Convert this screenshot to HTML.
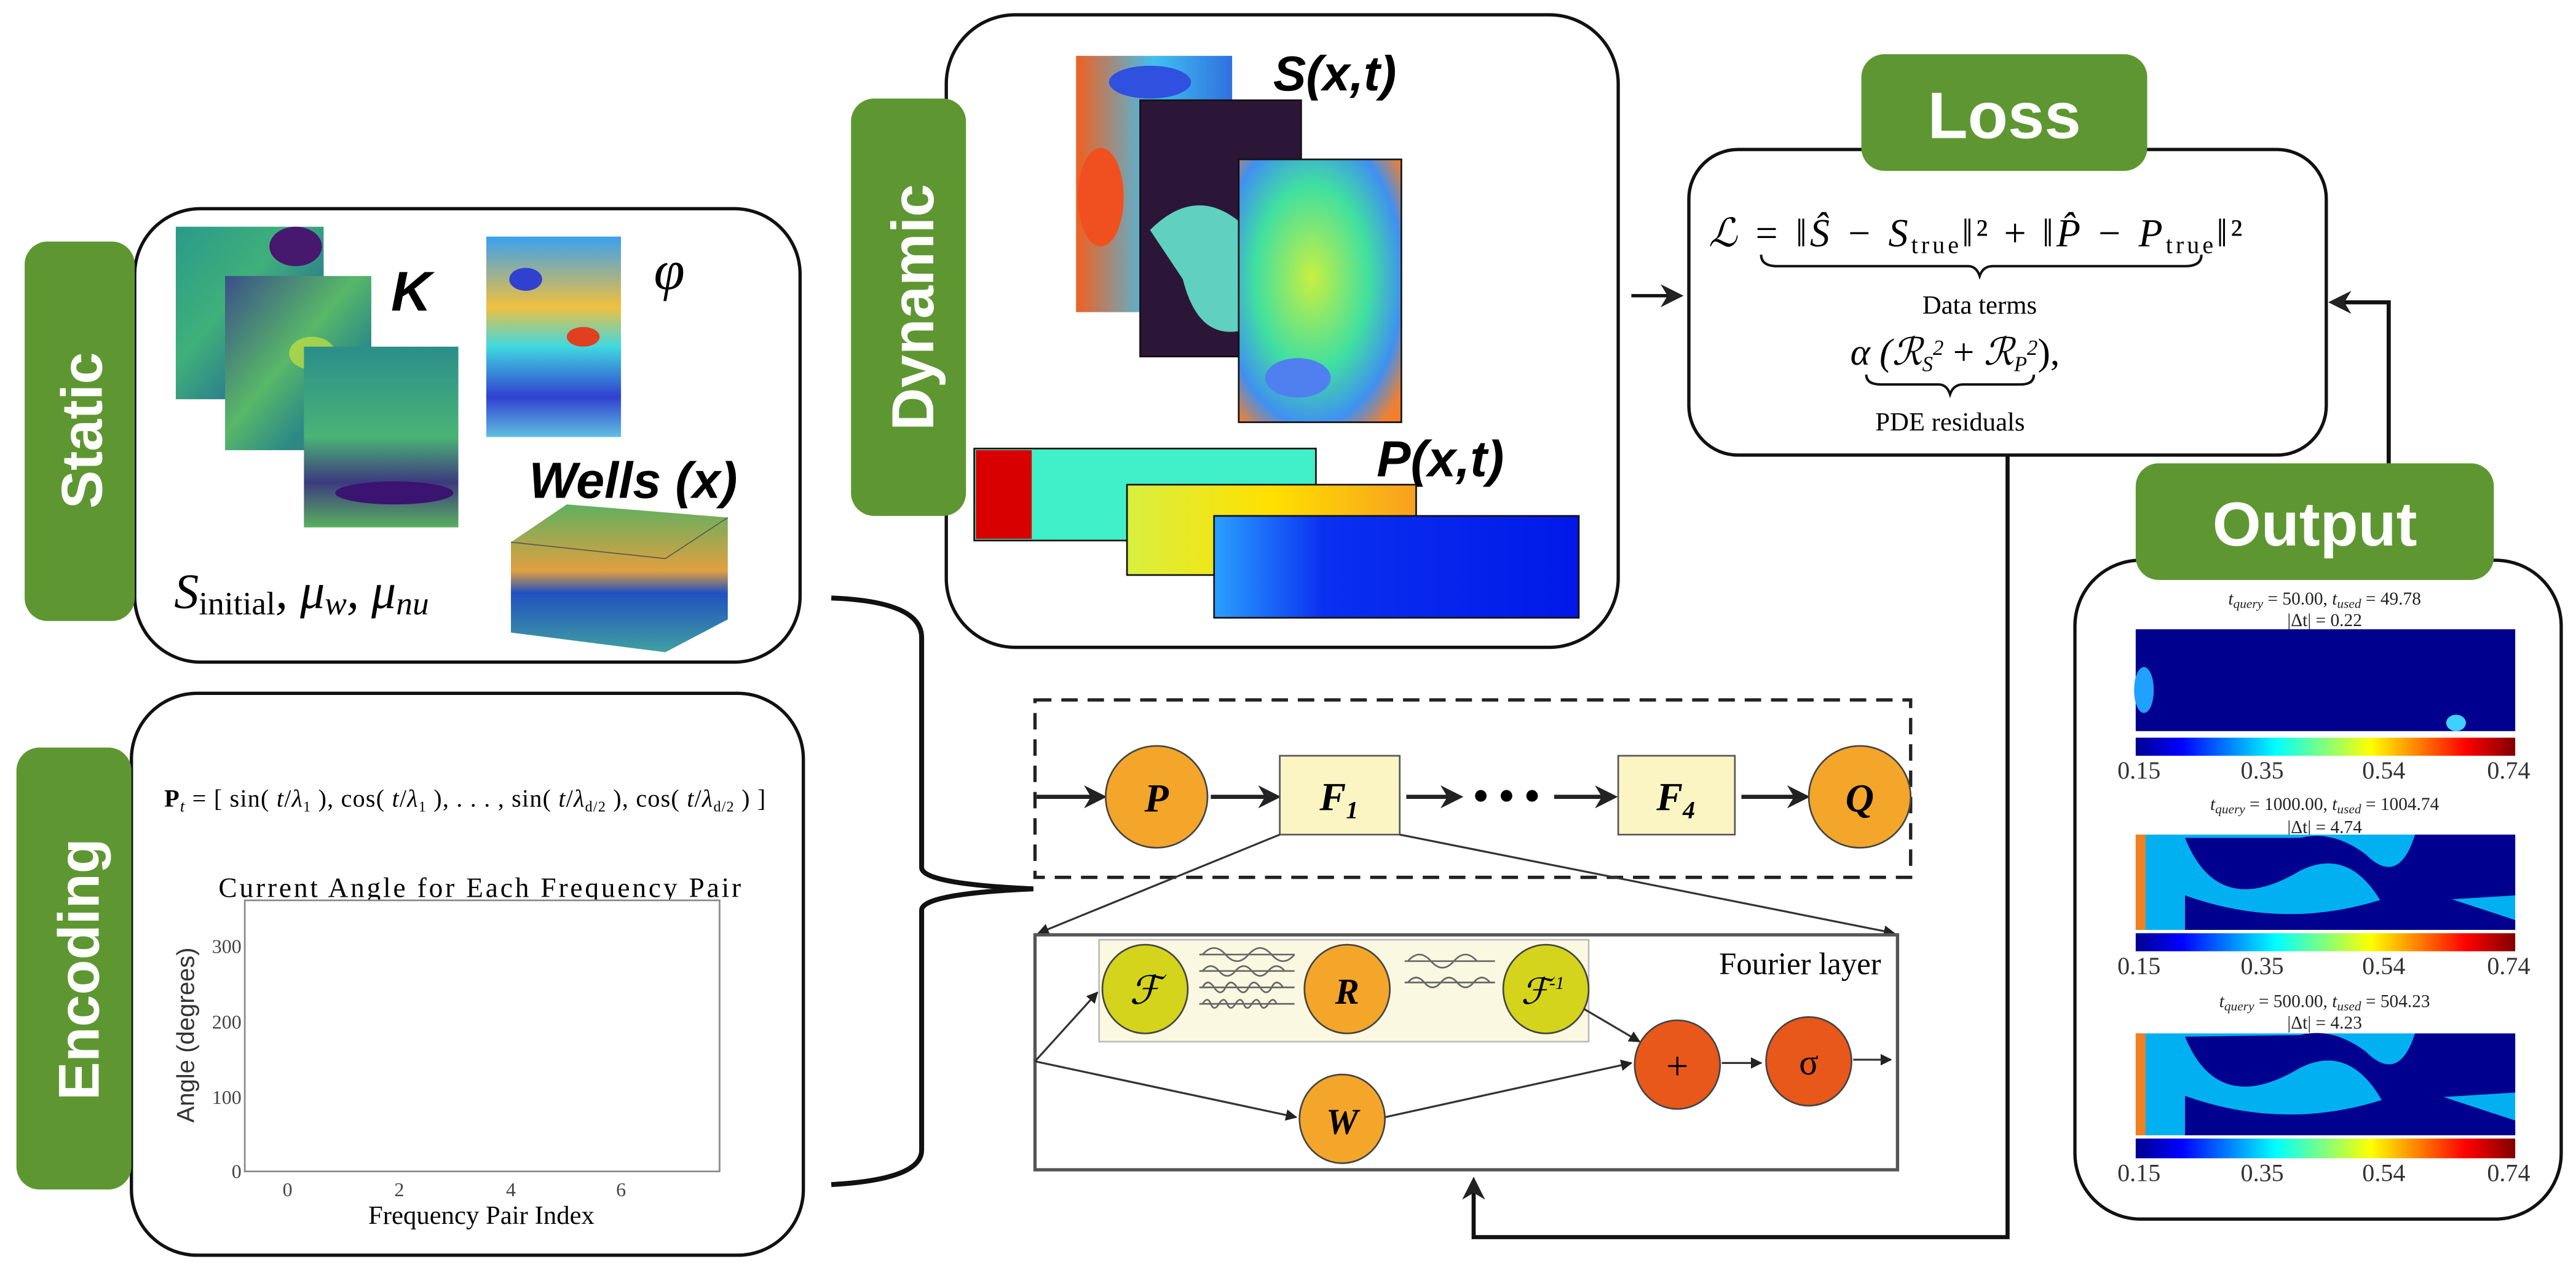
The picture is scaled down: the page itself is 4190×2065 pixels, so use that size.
<!DOCTYPE html>
<html><head><meta charset="utf-8"><style>
html,body{margin:0;padding:0;background:#fff;}
svg{display:block;}
text{font-family:"Liberation Serif",serif;}
.sans{font-family:"Liberation Sans",sans-serif;}
</style></head><body>
<svg width="4190" height="2065" viewBox="0 0 1568 773" preserveAspectRatio="none" xmlns="http://www.w3.org/2000/svg">
<defs>
<marker id="ah" viewBox="0 0 10 10" refX="9" refY="5" markerWidth="7" markerHeight="7" orient="auto-start-reverse" markerUnits="userSpaceOnUse"><path d="M0,0 L10,5 L0,10 z" fill="#222"/></marker>
<marker id="ahb" viewBox="0 0 10 10" refX="8" refY="5" markerWidth="14" markerHeight="14" orient="auto" markerUnits="userSpaceOnUse"><path d="M0,0 L10,5 L0,10 L3,5 z" fill="#222"/></marker>
<linearGradient id="jet" x1="0" x2="1" y1="0" y2="0">
<stop offset="0" stop-color="#00008f"/><stop offset="0.12" stop-color="#0000ff"/><stop offset="0.37" stop-color="#00ffff"/><stop offset="0.62" stop-color="#ffff00"/><stop offset="0.87" stop-color="#ff0000"/><stop offset="1" stop-color="#800000"/></linearGradient>
<linearGradient id="vir1" x1="0" y1="0" x2="1" y2="1"><stop offset="0" stop-color="#2a9a8a"/><stop offset="0.4" stop-color="#3fb07a"/><stop offset="0.7" stop-color="#2b7a8e"/><stop offset="1" stop-color="#42177a"/></linearGradient>
<linearGradient id="vir2" x1="0" y1="0" x2="1" y2="1"><stop offset="0" stop-color="#3a4f8a"/><stop offset="0.45" stop-color="#58b868"/><stop offset="0.7" stop-color="#2c8a86"/><stop offset="1" stop-color="#3e6a8c"/></linearGradient>
<linearGradient id="vir3" x1="0" y1="0" x2="0" y2="1"><stop offset="0" stop-color="#2a8e8a"/><stop offset="0.5" stop-color="#4ab376"/><stop offset="0.75" stop-color="#3d3a7e"/><stop offset="1" stop-color="#58b060"/></linearGradient>
<linearGradient id="phi" x1="0" y1="0" x2="0" y2="1"><stop offset="0" stop-color="#3aa0f0"/><stop offset="0.35" stop-color="#f0c040"/><stop offset="0.55" stop-color="#40d8e0"/><stop offset="0.8" stop-color="#3040d0"/><stop offset="1" stop-color="#60c0e0"/></linearGradient>
<linearGradient id="s1" x1="0" y1="0" x2="1" y2="0"><stop offset="0" stop-color="#f06020"/><stop offset="0.5" stop-color="#40c0f0"/><stop offset="1" stop-color="#3070e0"/></linearGradient>
<radialGradient id="s3" cx="0.45" cy="0.45" r="0.7"><stop offset="0" stop-color="#c8f040"/><stop offset="0.5" stop-color="#40e0a0"/><stop offset="0.8" stop-color="#4090f0"/><stop offset="1" stop-color="#f08030"/></radialGradient>
<linearGradient id="p2" x1="0" x2="1"><stop offset="0" stop-color="#d8f040"/><stop offset="0.5" stop-color="#ffe000"/><stop offset="1" stop-color="#f8a020"/></linearGradient>
<linearGradient id="p3" x1="0" x2="1"><stop offset="0" stop-color="#2aa0ff"/><stop offset="0.3" stop-color="#0a30f0"/><stop offset="1" stop-color="#0018e8"/></linearGradient>
<linearGradient id="blk3d" x1="0" y1="0" x2="0" y2="1"><stop offset="0" stop-color="#60b060"/><stop offset="0.45" stop-color="#e0a040"/><stop offset="0.6" stop-color="#2050c0"/><stop offset="1" stop-color="#40a0a0"/></linearGradient>
</defs>

<!-- ===== Static ===== -->
<rect x="82" y="127" width="405" height="276" rx="40" fill="#fff" stroke="#111" stroke-width="2"/>
<rect x="15" y="147" width="67" height="231" rx="14" fill="#5e9732"/>
<text class="sans" transform="translate(62,262) rotate(-90)" text-anchor="middle" font-size="35" font-weight="bold" fill="#fff">Static</text>
<rect x="107" y="138" width="90" height="105" fill="url(#vir1)"/>
<ellipse cx="180" cy="150" rx="16" ry="12" fill="#46186e"/>
<rect x="137" y="168" width="89" height="106" fill="url(#vir2)"/>
<ellipse cx="190" cy="215" rx="14" ry="10" fill="#c8e040" opacity="0.7"/>
<rect x="185" y="211" width="94" height="110" fill="url(#vir3)"/>
<ellipse cx="240" cy="300" rx="36" ry="7" fill="#3a1470"/>
<text class="sans" x="238" y="189" font-size="34" font-weight="bold" font-style="italic" fill="#000">K</text>
<rect x="296" y="144" width="82" height="122" fill="url(#phi)"/>
<ellipse cx="320" cy="170" rx="10" ry="7" fill="#3040d0"/><ellipse cx="355" cy="205" rx="10" ry="6" fill="#e04020"/>
<text x="398" y="176" font-size="34" font-style="italic">φ</text>
<text class="sans" x="322" y="303" font-size="31" font-weight="bold" font-style="italic" fill="#000">Wells (x)</text>
<path d="M311,330 L345,307 L443,315 L443,377 L405,397 L311,385 z" fill="url(#blk3d)"/>
<path d="M311,330 L405,340 L443,315" fill="none" stroke="#555" stroke-width="0.6"/>
<text x="106" y="370" font-size="30" font-style="italic">S<tspan font-size="20" font-style="normal" dy="4">initial</tspan><tspan dy="-4">, μ</tspan><tspan font-size="20" dy="4">w</tspan><tspan dy="-4">, μ</tspan><tspan font-size="20" dy="4">nu</tspan></text>

<!-- ===== Encoding ===== -->
<rect x="80" y="422" width="409" height="342" rx="40" fill="#fff" stroke="#111" stroke-width="2"/>
<rect x="10" y="455" width="70" height="269" rx="14" fill="#5e9732"/>
<text class="sans" transform="translate(60,590) rotate(-90)" text-anchor="middle" font-size="35" font-weight="bold" fill="#fff">Encoding</text>
<text x="100" y="491" font-size="15" textLength="366"><tspan font-weight="bold">P</tspan><tspan font-size="10" font-style="italic" dy="3">t</tspan><tspan dy="-3"> = [ sin( </tspan><tspan font-style="italic">t</tspan>/<tspan font-style="italic">λ</tspan><tspan font-size="9" dy="3">1</tspan><tspan dy="-3"> ), cos( </tspan><tspan font-style="italic">t</tspan>/<tspan font-style="italic">λ</tspan><tspan font-size="9" dy="3">1</tspan><tspan dy="-3"> ), . . . , sin( </tspan><tspan font-style="italic">t</tspan>/<tspan font-style="italic">λ</tspan><tspan font-size="9" dy="3">d/2</tspan><tspan dy="-3"> ), cos( </tspan><tspan font-style="italic">t</tspan>/<tspan font-style="italic">λ</tspan><tspan font-size="9" dy="3">d/2</tspan><tspan dy="-3"> ) ]</tspan></text>
<text x="133" y="546" font-size="17" textLength="318">Current Angle for Each Frequency Pair</text>
<rect x="149" y="548" width="289" height="165" fill="#fff" stroke="#888" stroke-width="1"/>
<g font-size="12" fill="#444" text-anchor="end">
<text x="147" y="580">300</text><text x="147" y="626">200</text><text x="147" y="672">100</text><text x="147" y="717">0</text></g>
<g font-size="12" fill="#444" text-anchor="middle">
<text x="175" y="728">0</text><text x="243" y="728">2</text><text x="311" y="728">4</text><text x="378" y="728">6</text></g>
<text x="293" y="745" font-size="16" text-anchor="middle">Frequency Pair Index</text>
<text class="sans" transform="translate(118,630) rotate(-90)" font-size="15" text-anchor="middle" fill="#333">Angle (degrees)</text>

<!-- Brace -->
<path d="M506,364 Q561,366 561,388 L561,528 Q561,538 629,541 Q561,544 561,554 L561,700 Q561,718 506,721" fill="none" stroke="#111" stroke-width="3"/>

<!-- ===== Dynamic ===== -->
<rect x="576" y="9" width="409" height="385" rx="42" fill="#fff" stroke="#111" stroke-width="2"/>
<rect x="518" y="60" width="70" height="254" rx="14" fill="#5e9732"/>
<text class="sans" transform="translate(568,187) rotate(-90)" text-anchor="middle" font-size="36" font-weight="bold" fill="#fff">Dynamic</text>
<rect x="655" y="34" width="95" height="156" fill="url(#s1)"/>
<ellipse cx="670" cy="120" rx="14" ry="30" fill="#f05020"/>
<ellipse cx="700" cy="50" rx="25" ry="10" fill="#3050e0"/>
<rect x="694" y="61" width="98" height="156" fill="#2c1638" stroke="#111"/>
<path d="M700,140 Q730,110 760,140 L760,200 Q730,210 720,170 z" fill="#60d0c0"/>
<rect x="754" y="97" width="99" height="160" fill="url(#s3)" stroke="#111"/>
<ellipse cx="790" cy="230" rx="20" ry="12" fill="#5080f0"/>
<text class="sans" x="775" y="55" font-size="30" font-weight="bold" font-style="italic">S(x,t)</text>
<rect x="593" y="273" width="208" height="56" fill="#40f0c8" stroke="#111"/>
<rect x="594" y="274" width="34" height="54" fill="#d80000"/>
<rect x="686" y="295" width="176" height="55" fill="url(#p2)" stroke="#111"/>
<rect x="739" y="314" width="222" height="62" fill="url(#p3)" stroke="#111"/>
<text class="sans" x="838" y="290" font-size="31" font-weight="bold" font-style="italic">P(x,t)</text>

<!-- ===== Loss ===== -->
<line x1="993" y1="180" x2="1022" y2="180" stroke="#111" stroke-width="2" marker-end="url(#ahb)"/>
<rect x="1028" y="91" width="388" height="186" rx="30" fill="#fff" stroke="#111" stroke-width="2"/>
<rect x="1133" y="33" width="174" height="71" rx="14" fill="#5e9732"/>
<text class="sans" x="1220" y="84" text-anchor="middle" font-size="40" font-weight="bold" fill="#fff">Loss</text>
<text x="1040" y="150" font-size="24" font-style="italic" textLength="325">ℒ = ‖Ŝ − S<tspan font-size="15" font-style="normal" dy="4">true</tspan><tspan dy="-4" font-style="normal">‖² + ‖</tspan>P̂ − P<tspan font-size="15" font-style="normal" dy="4">true</tspan><tspan dy="-4" font-style="normal">‖²</tspan></text>
<path d="M1072,155 Q1072,162 1082,162 L1198,162 Q1203,162 1205,168 Q1207,162 1213,162 L1330,162 Q1340,162 1340,155" fill="none" stroke="#111" stroke-width="1.5"/>
<text x="1205" y="191" font-size="16" text-anchor="middle">Data terms</text>
<text x="1190" y="222" font-size="23" text-anchor="middle" font-style="italic">α (ℛ<tspan font-size="13" dy="4">S</tspan><tspan font-size="13" dy="-10">2</tspan><tspan dy="6" font-style="normal"> + </tspan>ℛ<tspan font-size="13" dy="4">P</tspan><tspan font-size="13" dy="-10">2</tspan><tspan dy="6" font-style="normal">),</tspan></text>
<path d="M1136,228 Q1136,234 1145,234 L1180,234 Q1185,234 1187,240 Q1189,234 1195,234 L1230,234 Q1238,234 1238,228" fill="none" stroke="#111" stroke-width="1.5"/>
<text x="1187" y="262" font-size="16" text-anchor="middle">PDE residuals</text>

<!-- feedback arrows -->
<polyline points="1454,282 1454,184 1420,184" fill="none" stroke="#111" stroke-width="2.5" marker-end="url(#ahb)"/>
<polyline points="1222,277 1222,753 897,753 897,719" fill="none" stroke="#111" stroke-width="2.5" marker-end="url(#ahb)"/>

<!-- ===== FNO ===== -->
<rect x="630" y="426" width="533" height="108" fill="none" stroke="#222" stroke-width="2" stroke-dasharray="10,6"/>
<line x1="631" y1="485" x2="671" y2="485" stroke="#222" stroke-width="2.5" marker-end="url(#ahb)"/>
<ellipse cx="704" cy="485" rx="31" ry="31" fill="#f4a62a" stroke="#444"/>
<text x="704" y="494" text-anchor="middle" font-size="24" font-style="italic" font-weight="bold">P</text>
<line x1="737" y1="485" x2="777" y2="485" stroke="#222" stroke-width="2.5" marker-end="url(#ahb)"/>
<rect x="779" y="460" width="73" height="48" fill="#fbf5c4" stroke="#555"/>
<text x="815" y="493" text-anchor="middle" font-size="24" font-style="italic" font-weight="bold">F<tspan font-size="15" dy="5">1</tspan></text>
<line x1="856" y1="485" x2="888" y2="485" stroke="#222" stroke-width="2.5" marker-end="url(#ahb)"/>
<text x="917" y="493" text-anchor="middle" font-size="26" font-weight="bold">• • •</text>
<line x1="946" y1="485" x2="982" y2="485" stroke="#222" stroke-width="2.5" marker-end="url(#ahb)"/>
<rect x="985" y="460" width="71" height="48" fill="#fbf5c4" stroke="#555"/>
<text x="1020" y="493" text-anchor="middle" font-size="24" font-style="italic" font-weight="bold">F<tspan font-size="15" dy="5">4</tspan></text>
<line x1="1060" y1="485" x2="1099" y2="485" stroke="#222" stroke-width="2.5" marker-end="url(#ahb)"/>
<ellipse cx="1132" cy="485" rx="31" ry="31" fill="#f4a62a" stroke="#444"/>
<text x="1132" y="494" text-anchor="middle" font-size="24" font-style="italic" font-weight="bold">Q</text>

<line x1="779" y1="508" x2="632" y2="568" stroke="#333" stroke-width="1.2" marker-end="url(#ah)"/>
<line x1="852" y1="508" x2="1153" y2="568" stroke="#333" stroke-width="1.2" marker-end="url(#ah)"/>
<rect x="630" y="569" width="525" height="143" fill="#fff" stroke="#555" stroke-width="2"/>
<rect x="669" y="572" width="298" height="62" fill="#fbf8e2" stroke="#bbb"/>
<text x="1145" y="593" text-anchor="end" font-size="19">Fourier layer</text>
<g fill="none" stroke="#666" stroke-width="1">
<path d="M730,581 L788,581 M730,591 L788,591 M730,601 L788,601 M730,611 L788,611"/>
<path d="M732,581 q7,-8 14,0 t14,0 t14,0 t14,0"/>
<path d="M732,591 q5,-6 10,0 t10,0 t10,0 t10,0 t10,0"/>
<path d="M732,601 q3,-6 7,0 t7,0 t7,0 t7,0 t7,0 t7,0 t7,0"/>
<path d="M732,611 q3,-5 5,0 t5,0 t5,0 t5,0 t5,0 t5,0 t5,0 t5,0 t5,0"/>
<path d="M855,585 L910,585 M855,598 L910,598"/>
<path d="M857,585 q7,-8 14,0 t14,0 t14,0"/>
<path d="M857,598 q5,-6 10,0 t10,0 t10,0 t10,0 t10,0"/>
</g>
<ellipse cx="697" cy="602" rx="26" ry="27" fill="#d4d41c" stroke="#444"/>
<text x="697" y="611" text-anchor="middle" font-size="24" font-style="italic">ℱ</text>
<ellipse cx="820" cy="602" rx="26" ry="27" fill="#f4a62a" stroke="#444"/>
<text x="820" y="611" text-anchor="middle" font-size="22" font-style="italic" font-weight="bold">R</text>
<ellipse cx="941" cy="602" rx="26" ry="27" fill="#d4d41c" stroke="#444"/>
<text x="939" y="611" text-anchor="middle" font-size="22" font-style="italic">ℱ<tspan font-size="11" dy="-9">-1</tspan></text>
<line x1="630" y1="646" x2="668" y2="604" stroke="#333" stroke-width="1.2" marker-end="url(#ah)"/>
<line x1="630" y1="646" x2="789" y2="680" stroke="#333" stroke-width="1.2" marker-end="url(#ah)"/>
<ellipse cx="817" cy="681" rx="26" ry="27" fill="#f4a62a" stroke="#444"/>
<text x="817" y="690" text-anchor="middle" font-size="22" font-style="italic" font-weight="bold">W</text>
<line x1="843" y1="680" x2="993" y2="647" stroke="#333" stroke-width="1.2" marker-end="url(#ah)"/>
<line x1="964" y1="614" x2="998" y2="634" stroke="#333" stroke-width="1.2" marker-end="url(#ah)"/>
<ellipse cx="1021" cy="648" rx="26" ry="27" fill="#e8581a" stroke="#444"/>
<text x="1021" y="657" text-anchor="middle" font-size="24">+</text>
<line x1="1048" y1="647" x2="1072" y2="647" stroke="#333" stroke-width="1.2" marker-end="url(#ah)"/>
<ellipse cx="1101" cy="646" rx="26" ry="27" fill="#e8581a" stroke="#444"/>
<text x="1101" y="654" text-anchor="middle" font-size="22">σ</text>
<line x1="1128" y1="645" x2="1151" y2="645" stroke="#333" stroke-width="1.2" marker-end="url(#ah)"/>

<!-- ===== Output ===== -->
<rect x="1263" y="341" width="296" height="401" rx="40" fill="#fff" stroke="#111" stroke-width="2"/>
<rect x="1300" y="282" width="218" height="71" rx="14" fill="#5e9732"/>
<text class="sans" x="1409" y="332" text-anchor="middle" font-size="38" font-weight="bold" fill="#fff">Output</text>
<g font-family="Liberation Sans, sans-serif" font-size="11" fill="#222" text-anchor="middle">
<text x="1415" y="368"><tspan font-style="italic">t<tspan font-size="8" dy="2">query</tspan></tspan><tspan dy="-2"> = 50.00, </tspan><tspan font-style="italic">t<tspan font-size="8" dy="2">used</tspan></tspan><tspan dy="-2"> = 49.78</tspan></text>
<text x="1415" y="381">|Δt| = 0.22</text>
<text x="1415" y="493"><tspan font-style="italic">t<tspan font-size="8" dy="2">query</tspan></tspan><tspan dy="-2"> = 1000.00, </tspan><tspan font-style="italic">t<tspan font-size="8" dy="2">used</tspan></tspan><tspan dy="-2"> = 1004.74</tspan></text>
<text x="1415" y="507">|Δt| = 4.74</text>
<text x="1415" y="613"><tspan font-style="italic">t<tspan font-size="8" dy="2">query</tspan></tspan><tspan dy="-2"> = 500.00, </tspan><tspan font-style="italic">t<tspan font-size="8" dy="2">used</tspan></tspan><tspan dy="-2"> = 504.23</tspan></text>
<text x="1415" y="626">|Δt| = 4.23</text>
</g>
<rect x="1300" y="383" width="231" height="62" fill="#00008f"/>
<ellipse cx="1305" cy="420" rx="6" ry="14" fill="#20a0ff"/>
<ellipse cx="1495" cy="440" rx="6" ry="5" fill="#40d0ff"/>
<rect x="1300" y="449" width="231" height="11" fill="url(#jet)"/>
<rect x="1300" y="508" width="231" height="58" fill="#00b0f0"/>
<path d="M1330,510 Q1350,560 1400,530 Q1430,515 1450,550 L1531,545 L1531,508 L1470,508 Q1460,540 1440,520 Q1420,505 1400,510 z" fill="#00008f"/>
<path d="M1330,545 Q1400,570 1470,540 L1531,560 L1531,566 L1330,566 z" fill="#00008f"/>
<rect x="1300" y="508" width="6" height="58" fill="#f08020"/>
<rect x="1300" y="568" width="231" height="11" fill="url(#jet)"/>
<rect x="1300" y="629" width="231" height="62" fill="#00b0f0"/>
<path d="M1330,631 Q1350,680 1400,650 Q1430,635 1450,670 L1531,665 L1531,629 L1470,629 Q1460,660 1440,640 Q1420,625 1400,630 z" fill="#00008f"/>
<path d="M1330,667 Q1400,692 1470,662 L1531,682 L1531,691 L1330,691 z" fill="#00008f"/>
<rect x="1300" y="629" width="6" height="62" fill="#f08020"/>
<rect x="1300" y="693" width="231" height="12" fill="url(#jet)"/>
<g font-size="15" fill="#333" text-anchor="middle">
<text x="1302" y="474">0.15</text><text x="1377" y="474">0.35</text><text x="1451" y="474">0.54</text><text x="1527" y="474">0.74</text>
<text x="1302" y="593">0.15</text><text x="1377" y="593">0.35</text><text x="1451" y="593">0.54</text><text x="1527" y="593">0.74</text>
<text x="1302" y="719">0.15</text><text x="1377" y="719">0.35</text><text x="1451" y="719">0.54</text><text x="1527" y="719">0.74</text>
</g>
</svg>
</body></html>
